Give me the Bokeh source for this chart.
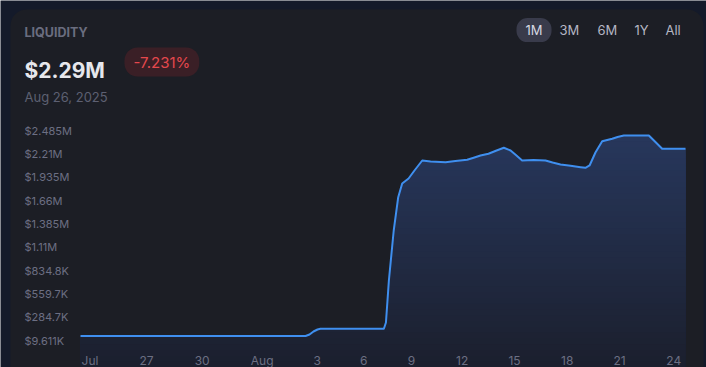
import numpy as np
from bokeh.plotting import figure
from bokeh.models import Range1d, FixedTicker, Label, LinearAxis, BoxAnnotation
from bokeh.embed import file_html
from bokeh.resources import INLINE

# ---------------- data ----------------
title_text = "LIQUIDITY"
current_value = "$2.29M"
change_text = "-7.231%"
date_text = "Aug 26, 2025"
range_buttons = ["1M", "3M", "6M", "1Y", "All"]

# x position in bar/day units along the time scale, liquidity in USD
x_pos = [0, 13.02, 13.25, 13.48, 13.71, 13.88, 17.55, 17.67, 17.84, 18.12, 18.38,
         18.61, 18.98, 19.32, 19.77, 20.25, 21.12, 21.69, 22.37, 22.79, 23.14,
         23.60, 24.07, 24.49, 24.88, 25.22, 25.55, 26.21, 26.90, 27.31, 27.77,
         28.35, 28.93, 29.21, 29.45, 29.79, 30.18, 30.76, 31.07, 31.43, 32.88,
         33.26, 33.65, 35.0]
liquidity = [62700, 62700, 80400, 115700, 139300, 147500, 147500, 221800, 717000,
             1306500, 1699000, 1860600, 1919600, 2013900, 2131800, 2120000, 2111800,
             2125900, 2140000, 2167200, 2190800, 2210800, 2250000, 2281500, 2250000,
             2190800, 2131800, 2137700, 2131800, 2108200, 2084600, 2069300, 2052800,
             2045700, 2072900, 2226100, 2359300, 2387600, 2408900, 2426600, 2426600,
             2349900, 2269700, 2269700]

y_ticks = [9611, 284700, 559700, 834800, 1110000, 1385000, 1660000, 1935000, 2210000, 2485000]
y_tick_labels = ["$9.611K", "$284.7K", "$559.7K", "$834.8K", "$1.11M", "$1.385M",
                 "$1.66M", "$1.935M", "$2.21M", "$2.485M"]
x_ticks = [0.55, 3.82, 7.04, 10.51, 13.69, 16.39, 19.15, 22.08, 25.11, 28.16, 31.18, 34.32]
x_tick_labels = ["Jul", "27", "30", "Aug", "3", "6", "9", "12", "15", "18", "21", "24"]

# ---------------- styling / layout ----------------
W, H = 706, 367
NAVY = "#141a2a"
CARD = "#1c1e25"
BLUE = "#3f8fef"
AXIS_TXT = "#6c6f83"
FONT = "Inter"

PX_PER_X = 17.286          # horizontal scale
X0_PX = 80                 # canvas px of x = 0
USD_PER_PX = 11790.0       # vertical scale
Y_REF_PX, Y_REF_VAL = 340, y_ticks[0]

x_start = -X0_PX / PX_PER_X
x_end = x_start + W / PX_PER_X
y_start = Y_REF_VAL - (H - Y_REF_PX) * USD_PER_PX
y_end = Y_REF_VAL + Y_REF_PX * USD_PER_PX


def px_x(px):
    return x_start + px / PX_PER_X


def px_y(py):
    return y_end - py * USD_PER_PX


p = figure(width=W, height=H, output_backend="svg", toolbar_location=None,
           x_range=Range1d(x_start, x_end), y_range=Range1d(y_start, y_end),
           x_axis_type=None, y_axis_type=None, min_border=0,
           background_fill_color=NAVY, border_fill_color=NAVY, outline_line_color=None)

# ---- card
p.add_layout(BoxAnnotation(left=px_x(10), right=px_x(703), top=px_y(9), bottom=px_y(420),
                           fill_color=CARD, fill_alpha=1, line_color=None,
                           border_radius=16, level="underlay"))

# ---- gradient area under the line (exact clipping of the polyline at band levels)
x_arr = np.array(x_pos, dtype=float)
v_arr = np.array(liquidity, dtype=float)
N = 40
levels = np.linspace(y_start, v_arr.max(), N + 1)
extra = []
for L in levels:
    for i in range(len(x_arr) - 1):
        a, b = v_arr[i], v_arr[i + 1]
        if (a - L) * (b - L) < 0:
            extra.append(x_arr[i] + (L - a) / (b - a) * (x_arr[i + 1] - x_arr[i]))
t_aug = np.unique(np.concatenate([x_arr, np.array(extra)]))
v_aug = np.interp(t_aug, x_arr, v_arr)

bottom_rgb = np.array([0x1b, 0x1f, 0x2d])
top_rgb = np.array([0x27, 0x37, 0x5c])
for k in range(N - 1, -1, -1):
    f = (k + 0.5) / N
    c = bottom_rgb + (top_rgb - bottom_rgb) * f
    col = "#%02x%02x%02x" % tuple(int(round(z)) for z in c)
    p.varea(x=t_aug, y1=y_start, y2=np.minimum(v_aug, levels[k + 1]), fill_color=col)

p.line(x_pos, liquidity, line_color=BLUE, line_width=2, line_join="round")

# ---- axes (fixed inside the frame)
yaxis = LinearAxis(fixed_location=px_x(24),
                   ticker=FixedTicker(ticks=y_ticks),
                   major_label_overrides=dict(zip(y_ticks, y_tick_labels)))
xaxis = LinearAxis(fixed_location=px_y(350),
                   ticker=FixedTicker(ticks=x_ticks),
                   major_label_overrides=dict(zip(x_ticks, x_tick_labels)))
for ax in (yaxis, xaxis):
    ax.axis_line_color = None
    ax.major_tick_line_color = None
    ax.minor_tick_line_color = None
    ax.major_tick_out = 0
    ax.major_tick_in = 0
    ax.major_label_text_font = FONT
    ax.major_label_text_color = AXIS_TXT
yaxis.major_label_standoff = 0
yaxis.major_label_text_font_size = "11px"
xaxis.major_label_standoff = 2
xaxis.major_label_text_font_size = "12px"
p.add_layout(yaxis, "right")
p.add_layout(xaxis, "below")


# ---- header texts (screen units, origin at bottom-left of the frame)
def lab(text, x, y_from_top, size, color, style="normal", baseline="alphabetic", **kw):
    return Label(x=x, y=H - y_from_top, x_units="screen", y_units="screen", text=text,
                 text_font=FONT, text_font_size=size, text_color=color,
                 text_font_style=style, text_baseline=baseline, **kw)


p.add_layout(lab(title_text, 24, 32.3, "12.5px", "#6a6d7f", "bold"))
p.add_layout(lab(current_value, 24, 70, "21px", "#e6e7ec", "bold"))
p.add_layout(lab(change_text, 124, 61.5, "15px", "#e5484d", baseline="middle",
                 background_fill_color="#3a1f26",
                 padding=dict(left=9, right=9, top=5, bottom=5), border_radius=13))
p.add_layout(lab(date_text, 24, 96.7, "13px", "#5d6072"))

btn_x = [516, 559, 597, 634, 665]
for i, (b, bx) in enumerate(zip(range_buttons, btn_x)):
    if i == 0:
        p.add_layout(lab(b, bx, 29.6, "13px", "#d6d8e2", baseline="middle",
                         background_fill_color="#393b4b",
                         padding=dict(left=9, right=9, top=4, bottom=4), border_radius=11))
    else:
        p.add_layout(lab(b, bx, 29.6, "13px", "#b4b6c3", baseline="middle"))

open("out.html", "w").write(file_html(p, INLINE, title="Liquidity"))
